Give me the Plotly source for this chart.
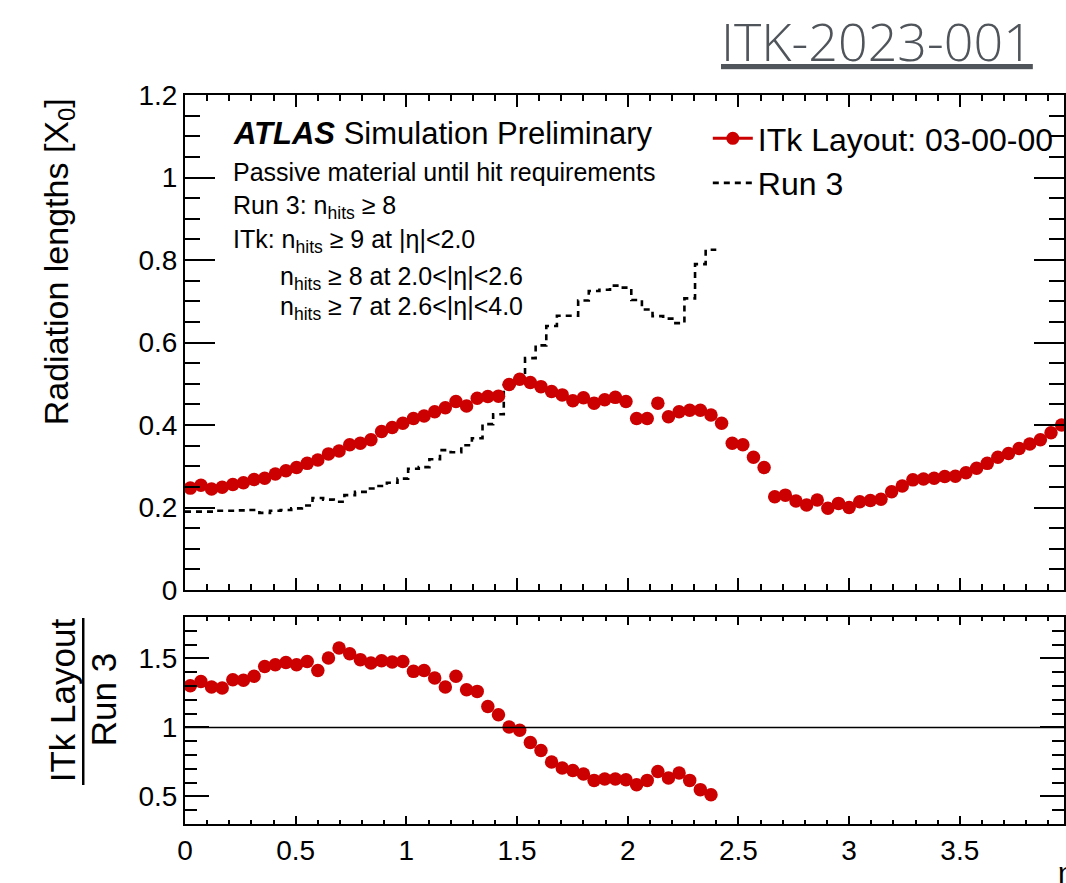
import numpy as np
import plotly.graph_objects as go

# ---------------- data ----------------
BIN_WIDTH = 0.048  # eta bin width

itk_x0 = [
    0.247, 0.254, 0.245, 0.249, 0.256, 0.260, 0.268, 0.271, 0.281, 0.289,
    0.297, 0.307, 0.315, 0.330, 0.337, 0.352, 0.356, 0.364, 0.384, 0.394,
    0.404, 0.416, 0.422, 0.432, 0.442, 0.457, 0.446, 0.465, 0.469, 0.470,
    0.498, 0.511, 0.503, 0.493, 0.481, 0.473, 0.459, 0.466, 0.453, 0.461,
    0.467, 0.457, 0.416, 0.416, 0.453, 0.420, 0.432, 0.436, 0.436, 0.424,
    0.404, 0.356, 0.352, 0.322, 0.297, 0.226, 0.230, 0.216, 0.206, 0.218,
    0.198, 0.210, 0.200, 0.214, 0.217, 0.220, 0.238, 0.252, 0.267, 0.269,
    0.271, 0.275, 0.276, 0.284, 0.295, 0.307, 0.322, 0.331, 0.343, 0.354,
    0.364, 0.381, 0.400,
]

run3_x0 = [
    0.190, 0.190, 0.190, 0.192, 0.192, 0.193, 0.194, 0.187, 0.192, 0.194,
    0.198, 0.205, 0.223, 0.219, 0.214, 0.230, 0.238, 0.246, 0.252, 0.260,
    0.270, 0.294, 0.298, 0.317, 0.339, 0.334, 0.351, 0.368, 0.402, 0.426,
    0.497, 0.520, 0.562, 0.593, 0.640, 0.665, 0.665, 0.702, 0.725, 0.728,
    0.738, 0.733, 0.703, 0.680, 0.664, 0.658, 0.647, 0.707, 0.790, 0.825,
]

ratio = [
    1.302, 1.333, 1.293, 1.285, 1.346, 1.341, 1.370, 1.442, 1.454, 1.471,
    1.454, 1.478, 1.413, 1.503, 1.575, 1.534, 1.491, 1.466, 1.483, 1.474,
    1.478, 1.406, 1.413, 1.358, 1.293, 1.370, 1.273, 1.261, 1.152, 1.092,
    1.003, 0.979, 0.891, 0.833, 0.749, 0.706, 0.688, 0.662, 0.616, 0.626,
    0.626, 0.621, 0.585, 0.616, 0.681, 0.633, 0.670, 0.616, 0.549, 0.512,
]

x_ticks = [0, 0.5, 1, 1.5, 2, 2.5, 3, 3.5, 4]
y_ticks_top = [0, 0.2, 0.4, 0.6, 0.8, 1.0, 1.2]
y_ticks_ratio = [0.5, 1, 1.5]

# bin geometry from bin width
itk_centers = (np.arange(len(itk_x0)) + 0.5) * BIN_WIDTH
run3_edges = np.arange(len(run3_x0) + 1) * BIN_WIDTH
run3_step_y = run3_x0 + [run3_x0[-1]]
ratio_centers = (np.arange(len(ratio)) + 0.5) * BIN_WIDTH

# ---------------- geometry ----------------
W, H = 1066, 883
L, R, T, B = 185, 0, 95, 59
PW, PH = W - L - R, H - T - B
XMAX = (W - 184.5) / 222.0


def px(xp):
    return (xp - L) / PW


def py(yp):
    return (H - B - yp) / PH


RED = "#cc0000"
FONT = "Liberation Sans, Arial, Helvetica, sans-serif"

fig = go.Figure()

fig.add_trace(go.Scatter(
    x=run3_edges, y=run3_step_y, mode="lines", line_shape="hv",
    line=dict(color="black", width=2.6, dash="6px,5px"),
    name="Run 3", showlegend=False, xaxis="x", yaxis="y"))

fig.add_trace(go.Scatter(
    x=itk_centers, y=itk_x0, mode="markers",
    marker=dict(color=RED, size=13.5, line=dict(width=0)),
    name="ITk Layout: 03-00-00", showlegend=False, xaxis="x", yaxis="y"))

# legend entries
fig.add_trace(go.Scatter(
    x=[None], y=[None], mode="lines+markers",
    line=dict(color=RED, width=3), marker=dict(color=RED, size=13),
    name="ITk Layout: 03-00-00", xaxis="x", yaxis="y"))
fig.add_trace(go.Scatter(
    x=[None], y=[None], mode="lines",
    line=dict(color="black", width=2.6, dash="6px,5px"),
    name="Run 3", xaxis="x", yaxis="y"))

fig.add_trace(go.Scatter(
    x=ratio_centers, y=ratio, mode="markers",
    marker=dict(color=RED, size=13.5, line=dict(width=0)),
    showlegend=False, xaxis="x2", yaxis="y2"))

common = dict(showline=True, linewidth=2, linecolor="black", mirror="ticks",
              ticks="inside", tickcolor="black", tickwidth=2,
              showgrid=False, zeroline=False,
              tickfont=dict(family=FONT, size=28, color="black"))

fig.update_layout(
    width=W, height=H,
    margin=dict(l=L, r=R, t=T, b=B, pad=0),
    paper_bgcolor="white", plot_bgcolor="white",
    font=dict(family=FONT, color="black"),
    xaxis=dict(domain=[0, 1], anchor="y", range=[0, XMAX],
               tickvals=x_ticks, ticklen=12, showticklabels=False,
               minor=dict(dtick=0.1, tick0=0, ticklen=6, ticks="inside",
                          tickwidth=1.5, tickcolor="black"),
               **common),
    yaxis=dict(domain=[py(590), 1], anchor="x", range=[0, 1.2],
               tickvals=y_ticks_top, ticklen=30,
               minor=dict(dtick=0.05, tick0=0, ticklen=15, ticks="inside",
                          tickwidth=1.5, tickcolor="black"),
               **common),
    xaxis2=dict(domain=[0, 1], anchor="y2", range=[0, XMAX], matches="x",
                tickvals=x_ticks, ticklen=8,
                minor=dict(dtick=0.1, tick0=0, ticklen=4, ticks="inside",
                           tickwidth=1.5, tickcolor="black"),
                **common),
    yaxis2=dict(domain=[0, py(617)], anchor="x2", range=[0.3, 1.8],
                tickvals=y_ticks_ratio, ticklen=24,
                minor=dict(dtick=0.1, tick0=0, ticklen=12, ticks="inside",
                           tickwidth=1.5, tickcolor="black"),
                **common),
    legend=dict(x=px(709), y=py(111), xanchor="left", yanchor="top",
                bgcolor="rgba(0,0,0,0)", borderwidth=0,
                font=dict(family=FONT, size=32, color="black"),
                itemwidth=40, tracegroupgap=0),
    showlegend=True,
)

# line at ratio = 1
fig.add_shape(type="line", xref="x2 domain", yref="y2", x0=0, x1=1, y0=1, y1=1,
              line=dict(color="black", width=1.5))

ann = []


def text(xp, yp, s, size, xanchor="left", angle=0, color="black", family=FONT, **kw):
    ann.append(dict(x=px(xp), y=py(yp), xref="paper", yref="paper", text=s,
                    showarrow=False, xanchor=xanchor, yanchor="middle",
                    textangle=angle, font=dict(family=family, size=size, color=color, **kw)))


text(231, 133, "<b><i>ATLAS</i></b> Simulation Preliminary", 31)
text(231, 172, "Passive material until hit requirements", 25)
text(231, 207, "Run 3: n<sub>hits</sub> ≥ 8", 25)
text(231, 241, "ITk: n<sub>hits</sub> ≥ 9 at |η|&lt;2.0", 25)
text(278, 278, "n<sub>hits</sub> ≥ 8 at 2.0&lt;|η|&lt;2.6", 25)
text(278, 308, "n<sub>hits</sub> ≥ 7 at 2.6&lt;|η|&lt;4.0", 25)

# axis titles
text(58, 262, "Radiation lengths [X<sub>0</sub>]", 34, xanchor="center", angle=-90)
text(62, 700, "ITk Layout", 35, xanchor="center", angle=-90)
text(103, 700, "Run 3", 35, xanchor="center", angle=-90)
text(1058, 872, "η", 30)

# header
ann.append(dict(x=px(879), y=py(41), xref="paper", yref="paper", text="ITK-2023-001",
                showarrow=False, xanchor="center", yanchor="middle",
                font=dict(family="Open Sans, Inter, sans-serif", size=52,
                          color="#50555b", weight=300, lineposition="under")))

fig.update_layout(annotations=ann)

# fraction bar of the ratio title
fig.add_shape(type="line", xref="paper", yref="paper",
              x0=px(83), x1=px(83), y0=py(618), y1=py(785),
              line=dict(color="black", width=2.5))

fig.write_html("out.html")
